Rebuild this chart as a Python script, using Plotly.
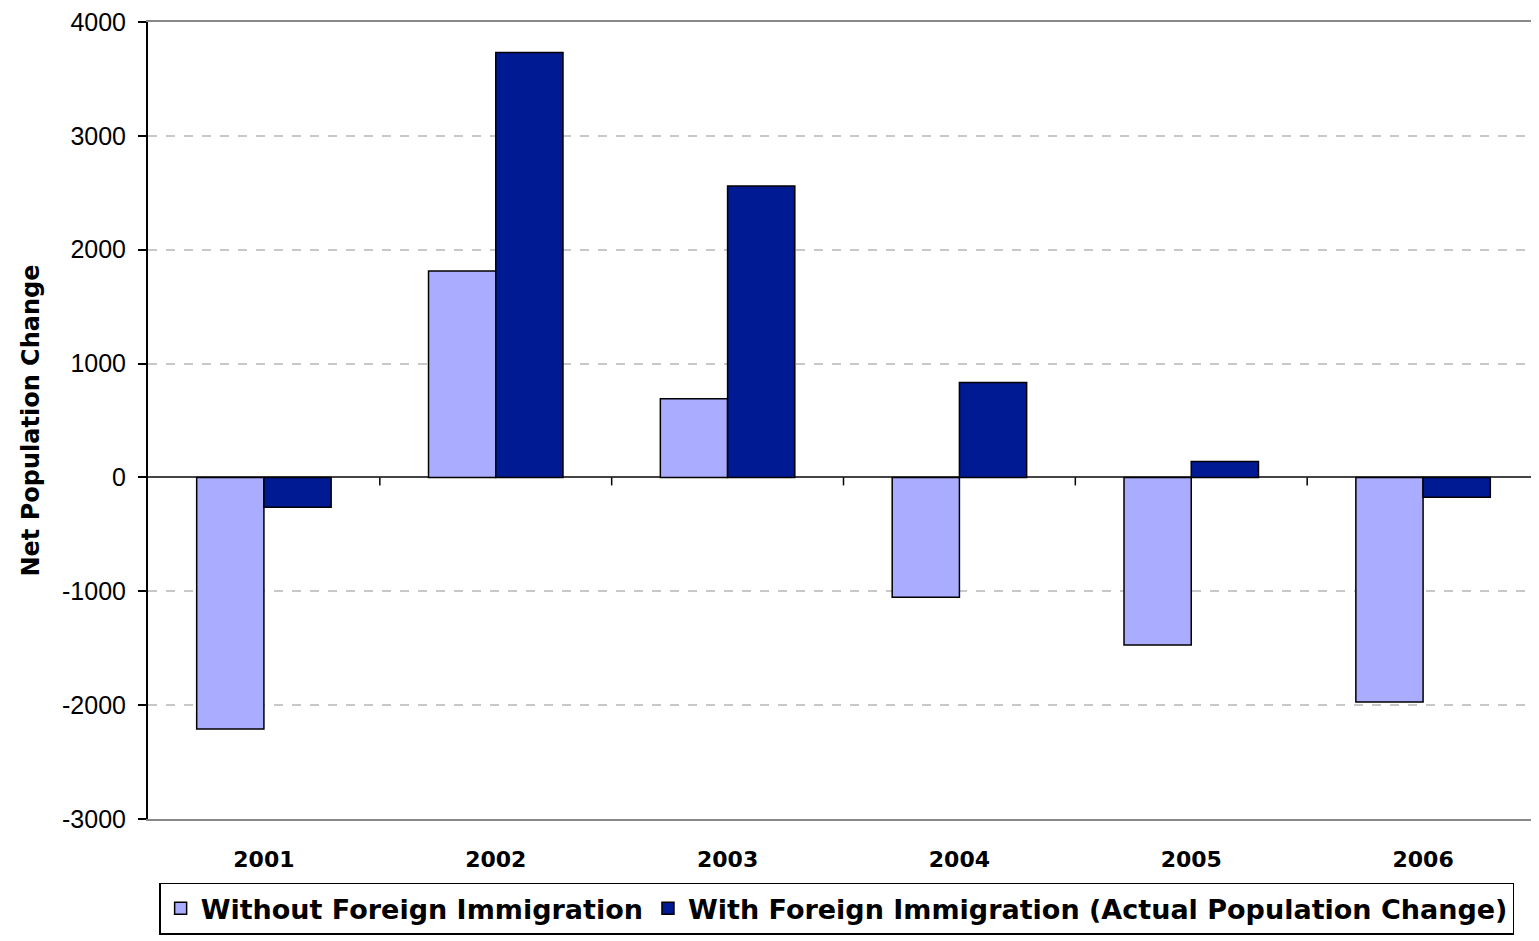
import plotly.graph_objects as go

years = ["2001", "2002", "2003", "2004", "2005", "2006"]
without_foreign = [-2210, 1814, 692, -1052, -1472, -1972]
with_foreign = [-263, 3733, 2559, 833, 140, -175]
series_names = ["Without Foreign Immigration", "With Foreign Immigration (Actual Population Change)"]
y_ticks = [-3000, -2000, -1000, 0, 1000, 2000, 3000, 4000]
y_tick_text = [str(v) for v in y_ticks]

fig = go.Figure()
fig.add_trace(go.Bar(x=years, y=without_foreign, name=series_names[0],
                     marker=dict(color="#AAADFF", line=dict(color="#000000", width=1.5))))
fig.add_trace(go.Bar(x=years, y=with_foreign, name=series_names[1],
                     marker=dict(color="#001A94", line=dict(color="#000000", width=1.5))))

# tick marks on the zero line at category boundaries
shapes = []
for i in range(len(years) - 1):
    shapes.append(dict(type="line", xref="x", yref="y", x0=i + 0.5, x1=i + 0.5,
                       y0=0, y1=-70, line=dict(color="#000000", width=1.5)))
shapes.append(dict(type="line", xref="paper", yref="paper", x0=1, x1=1, y0=0, y1=1,
                   line=dict(color="#CCCCCC", width=1.5)))
fig.update_layout(shapes=shapes)

fig.update_layout(
    width=1531, height=933,
    margin=dict(l=140, r=0, t=14, b=122, autoexpand=False),
    paper_bgcolor="white", plot_bgcolor="white",
    barmode="group", bargap=0.42, bargroupgap=0,
    font=dict(family="Liberation Sans, Arial", color="#000000"),
    xaxis=dict(
        type="category",
        showline=True, mirror=True, linecolor="#888888", linewidth=2,
        showgrid=False, ticks="",
        tickfont=dict(family="DejaVu Sans", size=22, color="#000000", weight="bold"),
        ticklabelstandoff=20,
    ),
    yaxis=dict(
        range=[-3000, 4000], tickvals=y_ticks, ticktext=y_tick_text,
        showline=True, linecolor="#000000", linewidth=2,
        ticks="outside", ticklen=8, tickcolor="#000000", tickwidth=2,
        showgrid=True, gridcolor="#C8C8C8", gridwidth=1.5, griddash="dash",
        zeroline=True, zerolinecolor="#444444", zerolinewidth=1.5,
        tickfont=dict(family="Liberation Sans, Arial", size=25, color="#000000"),
        ticklabelstandoff=7, ticklabeloverflow="allow", automargin=False,
        title=dict(text="Net Population Change", standoff=16,
                   font=dict(family="DejaVu Sans", size=24, color="#000000", weight="bold")),
    ),
    legend=dict(
        orientation="h", x=0.008, xanchor="left", y=-0.080, yanchor="top",
        bordercolor="#000000", borderwidth=1.5, bgcolor="white",
        font=dict(family="DejaVu Sans", size=27, color="#000000", weight="bold"),
        itemwidth=30, tracegroupgap=0,
    ),
    showlegend=True,
)

fig.write_html("out.html")
